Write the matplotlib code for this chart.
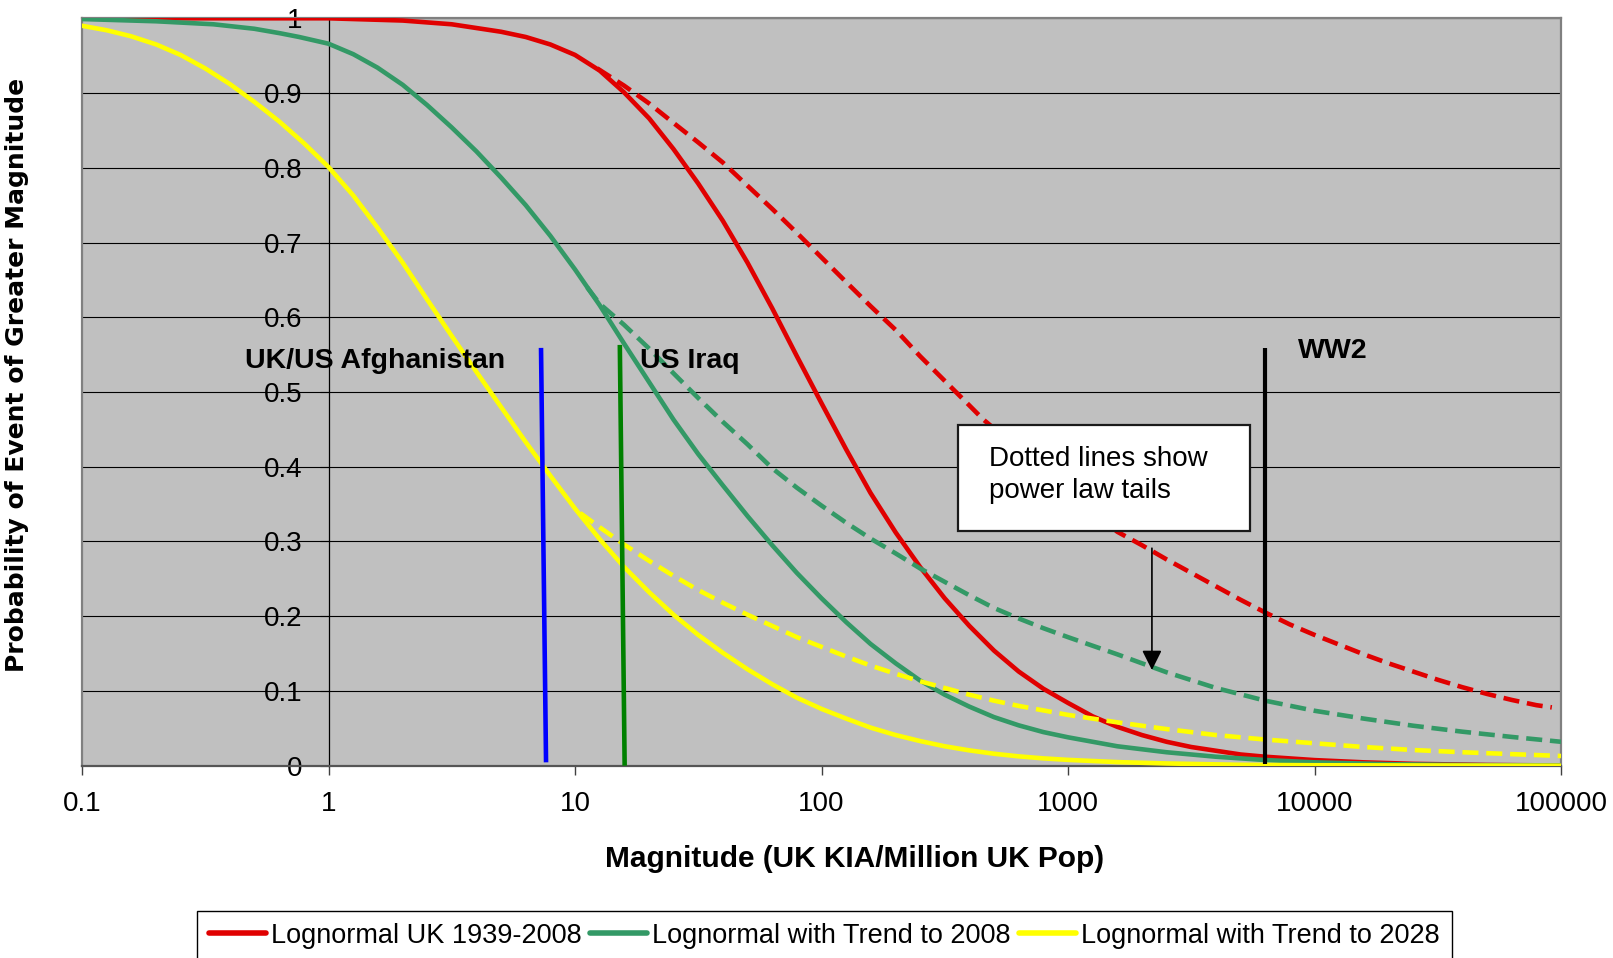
import matplotlib
matplotlib.use('Agg')
import matplotlib.pyplot as plt
from matplotlib.patches import Rectangle
from matplotlib.lines import Line2D
from matplotlib.ticker import NullLocator

plt.rcParams['font.family'] = ['Liberation Sans', 'DejaVu Sans']

# ---------------- data ----------------
red_x = [0.1, 1.0, 2.0, 3.16, 5.01, 6.31, 7.94, 10, 12.6, 15.8, 20, 25.1, 31.6, 39.8, 50.1, 63.1, 79.4,
         100, 126, 158, 200, 251, 316, 398, 501, 631, 794, 1000, 1259, 1585, 1995, 2512, 3162, 3981,
         5012, 6310, 10000, 15850, 25120, 50000, 100000]
red_y = [1.0, 1.0, 0.997, 0.992, 0.982, 0.975, 0.965, 0.951, 0.930, 0.901, 0.866, 0.825, 0.779, 0.729, 0.673,
         0.612, 0.548, 0.485, 0.423, 0.365, 0.312, 0.266, 0.224, 0.187, 0.154, 0.126, 0.103, 0.084, 0.066,
         0.052, 0.041, 0.032, 0.025, 0.020, 0.015, 0.012, 0.0075, 0.0045, 0.0025, 0.001, 0.0003]

red_tail_x = [12.3, 15.8, 20, 25.1, 31.6, 39.8, 50.1, 63.1, 79.4, 100, 126, 158, 200, 251, 316, 398, 454,
              1585, 1995, 2512, 3162, 3981, 5012, 6310, 7943, 10000, 12590, 15850, 19950, 25120, 31620,
              39810, 50120, 63100, 79430, 91800]
red_tail_y = [0.933, 0.910, 0.886, 0.860, 0.834, 0.807, 0.776, 0.745, 0.713, 0.680, 0.647, 0.615, 0.583,
              0.548, 0.515, 0.482, 0.463, 0.313, 0.295, 0.276, 0.258, 0.240, 0.222, 0.205, 0.189, 0.175,
              0.162, 0.149, 0.137, 0.126, 0.115, 0.105, 0.096, 0.088, 0.081, 0.078]

green_x = [0.1, 0.2, 0.341, 0.5, 0.636, 0.76, 1.0, 1.26, 1.58, 2.0, 2.51, 3.16, 3.98, 5.01, 6.31, 7.94, 10,
           12.6, 15.8, 20, 25.1, 31.6, 39.8, 50.1, 63.1, 79.4, 100, 126, 158, 200, 251, 316, 398, 501, 631,
           794, 1000, 1585, 2512, 3981, 6310, 10000, 20000, 50000, 100000]
green_y = [0.999, 0.996, 0.992, 0.986, 0.980, 0.975, 0.966, 0.952, 0.934, 0.911, 0.884, 0.854, 0.822, 0.787,
           0.750, 0.709, 0.664, 0.616, 0.565, 0.513, 0.463, 0.417, 0.375, 0.334, 0.295, 0.258, 0.224, 0.192,
           0.163, 0.137, 0.114, 0.095, 0.079, 0.065, 0.054, 0.045, 0.038, 0.026, 0.018, 0.012, 0.0076,
           0.0045, 0.002, 0.0007, 0.0003]

green_tail_x = [11.2, 12.6, 15.8, 20, 25.1, 31.6, 39.8, 50.1, 63.1, 79.4, 100, 126, 158, 200, 251, 316, 398,
                501, 631, 794, 1000, 1585, 2512, 3981, 6310, 10000, 15850, 25120, 39810, 63100, 100000]
green_tail_y = [0.640, 0.618, 0.590, 0.558, 0.525, 0.492, 0.460, 0.430, 0.398, 0.372, 0.348, 0.325, 0.304,
                0.284, 0.264, 0.246, 0.228, 0.211, 0.197, 0.184, 0.172, 0.149, 0.125, 0.104, 0.087, 0.0735,
                0.063, 0.0535, 0.0455, 0.0385, 0.032]

yellow_x = [0.1, 0.126, 0.158, 0.2, 0.251, 0.316, 0.398, 0.501, 0.631, 0.794, 1.0, 1.26, 1.58, 2.0, 2.51,
            3.16, 3.98, 5.01, 6.31, 7.94, 10, 12.6, 15.8, 20, 25.1, 31.6, 39.8, 50.1, 63.1, 79.4, 100, 126,
            158, 200, 251, 316, 398, 501, 631, 794, 1000, 1585, 2512, 5000, 10000, 100000]
yellow_y = [0.990, 0.984, 0.976, 0.965, 0.951, 0.933, 0.912, 0.888, 0.862, 0.833, 0.801, 0.763, 0.720,
            0.673, 0.624, 0.575, 0.527, 0.480, 0.433, 0.388, 0.344, 0.303, 0.266, 0.232, 0.202, 0.175,
            0.151, 0.129, 0.109, 0.091, 0.076, 0.063, 0.051, 0.041, 0.033, 0.026, 0.0205, 0.016, 0.0125,
            0.0098, 0.0078, 0.0048, 0.003, 0.0012, 0.0006, 0.0]

yellow_tail_x = [10.5, 12.6, 15.8, 20, 25.1, 31.6, 39.8, 50.1, 63.1, 79.4, 100, 126, 158, 200, 251, 316, 398,
                 501, 631, 794, 1000, 1585, 2512, 3981, 6310, 10000, 15850, 25120, 39810, 63100, 100000]
yellow_tail_y = [0.338, 0.319, 0.296, 0.274, 0.254, 0.235, 0.218, 0.202, 0.187, 0.172, 0.159, 0.146, 0.134,
                 0.123, 0.113, 0.104, 0.095, 0.087, 0.080, 0.074, 0.068, 0.058, 0.049, 0.041, 0.035, 0.030,
                 0.025, 0.021, 0.018, 0.0155, 0.013]

afghan_x = [7.28, 7.63]
afghan_y = [0.559, 0.0045]
iraq_x = [15.2, 15.9]
iraq_y = [0.563, 0.0]
ww2_x = [6300, 6300]
ww2_y = [0.559, 0.002]

xticks = [0.1, 1, 10, 100, 1000, 10000, 100000]
xtick_labels = ['0.1', '1', '10', '100', '1000', '10000', '100000']
yticks = [0, 0.1, 0.2, 0.3, 0.4, 0.5, 0.6, 0.7, 0.8, 0.9, 1.0]
ytick_labels = ['0', '0.1', '0.2', '0.3', '0.4', '0.5', '0.6', '0.7', '0.8', '0.9', '1']

legend_labels = ['Lognormal UK 1939-2008', 'Lognormal with Trend to 2008', 'Lognormal with Trend to 2028']

RED = '#E00000'
GREEN = '#339966'
YELLOW = '#FFFF00'

# ---------------- figure ----------------
W, H = 1613, 958
fig = plt.figure(figsize=(W / 100, H / 100), dpi=100)
ax = fig.add_axes([82 / W, 1 - 765.7 / H, 1479 / W, 747.4 / H])
ax.set_xscale('log')
ax.set_xlim(0.1, 100000)
ax.set_ylim(0, 1)
ax.set_facecolor('#C0C0C0')

# gridlines
ax.set_axisbelow(True)
ax.yaxis.grid(True, color='black', lw=0.8)
ax.xaxis.grid(False)

# spines / frame
ax.spines['left'].set_position(('data', 1))
ax.spines['left'].set_color('black')
ax.spines['left'].set_linewidth(0.9)
for s in ['top', 'right']:
    ax.spines[s].set_color('#808080')
    ax.spines[s].set_linewidth(1.6)
ax.spines['bottom'].set_color('#555555')
ax.spines['bottom'].set_linewidth(1.6)
ax.add_line(Line2D([0, 0], [0, 1], transform=ax.transAxes, color='#808080', lw=1.6, clip_on=False))

# ticks
ax.set_xticks(xticks)
ax.set_xticklabels(xtick_labels)
ax.xaxis.set_minor_locator(NullLocator())
ax.tick_params(axis='x', direction='out', length=6.5, width=1.0, color='#404040', pad=11.5, labelsize=20)
ax.set_yticks(yticks)
ax.set_yticklabels(ytick_labels)
ax.tick_params(axis='y', direction='out', length=6.5, width=0.8, color='black', pad=12, labelsize=20)

# curves
lw = 3.3
dash = (3.5, 1.7)
ax.plot(red_x, red_y, color=RED, lw=lw, zorder=3, solid_joinstyle='round')
ax.plot(red_tail_x, red_tail_y, color=RED, lw=lw, dashes=dash, zorder=3)
ax.plot(green_x, green_y, color=GREEN, lw=lw, zorder=3, solid_joinstyle='round')
ax.plot(green_tail_x, green_tail_y, color=GREEN, lw=lw, dashes=dash, zorder=3)
ax.plot(yellow_x, yellow_y, color=YELLOW, lw=lw, zorder=3, solid_joinstyle='round')
ax.plot(yellow_tail_x, yellow_tail_y, color=YELLOW, lw=lw, dashes=dash, zorder=3)

# event markers
ax.plot(afghan_x, afghan_y, color='#0000FF', lw=3.3, zorder=4, solid_capstyle='butt')
ax.plot(iraq_x, iraq_y, color='#008000', lw=3.3, zorder=4, solid_capstyle='butt')
ax.plot(ww2_x, ww2_y, color='black', lw=3.0, zorder=4, solid_capstyle='butt')

ax.text(0.4584, 0.5317, 'UK/US Afghanistan', fontsize=20.5, fontweight='bold', va='baseline', zorder=6)
ax.text(18.35, 0.5317, 'US Iraq', fontsize=20.5, fontweight='bold', va='baseline', zorder=6)
ax.text(8570, 0.545, 'WW2', fontsize=20.5, fontweight='bold', va='baseline', zorder=6)

# annotation box
ax.add_patch(Rectangle((358, 0.314), 5470 - 358, 0.142, facecolor='white', edgecolor='#1a1a1a',
                       lw=1.6, zorder=5))
ax.text(479, 0.401, 'Dotted lines show', fontsize=20, va='baseline', zorder=6)
ax.text(479, 0.3577, 'power law tails', fontsize=20, va='baseline', zorder=6)
ax.annotate('', xy=(2190, 0.128), xytext=(2190, 0.291),
            arrowprops=dict(arrowstyle='-|>', color='black', lw=1.2, mutation_scale=30,
                            shrinkA=0, shrinkB=0), zorder=6)

# axis titles
fig.text(854.3 / W, 1 - 866.7 / H, 'Magnitude (UK KIA/Million UK Pop)', fontsize=21.5,
         fontweight='bold', ha='center', va='baseline')
fig.text(17 / W, 1 - 374.5 / H, 'Probability of Event of Greater Magnitude', fontsize=18,
         fontweight='bold', family='DejaVu Sans', rotation=90, ha='center', va='center')

# legend
handles = [Line2D([], [], color=c, lw=4, solid_capstyle='round') for c in (RED, GREEN, YELLOW)]
leg = fig.legend(handles, legend_labels, loc='upper center', bbox_to_anchor=(824.5 / W, 1 - 910.5 / H),
                 ncol=3, frameon=True, fancybox=False, edgecolor='black', framealpha=1,
                 fontsize=19.5, handlelength=2.1, handletextpad=0.2, columnspacing=0.3,
                 borderpad=0.45, borderaxespad=0)
leg.get_frame().set_linewidth(1.0)

fig.savefig('out.png', dpi=100)
